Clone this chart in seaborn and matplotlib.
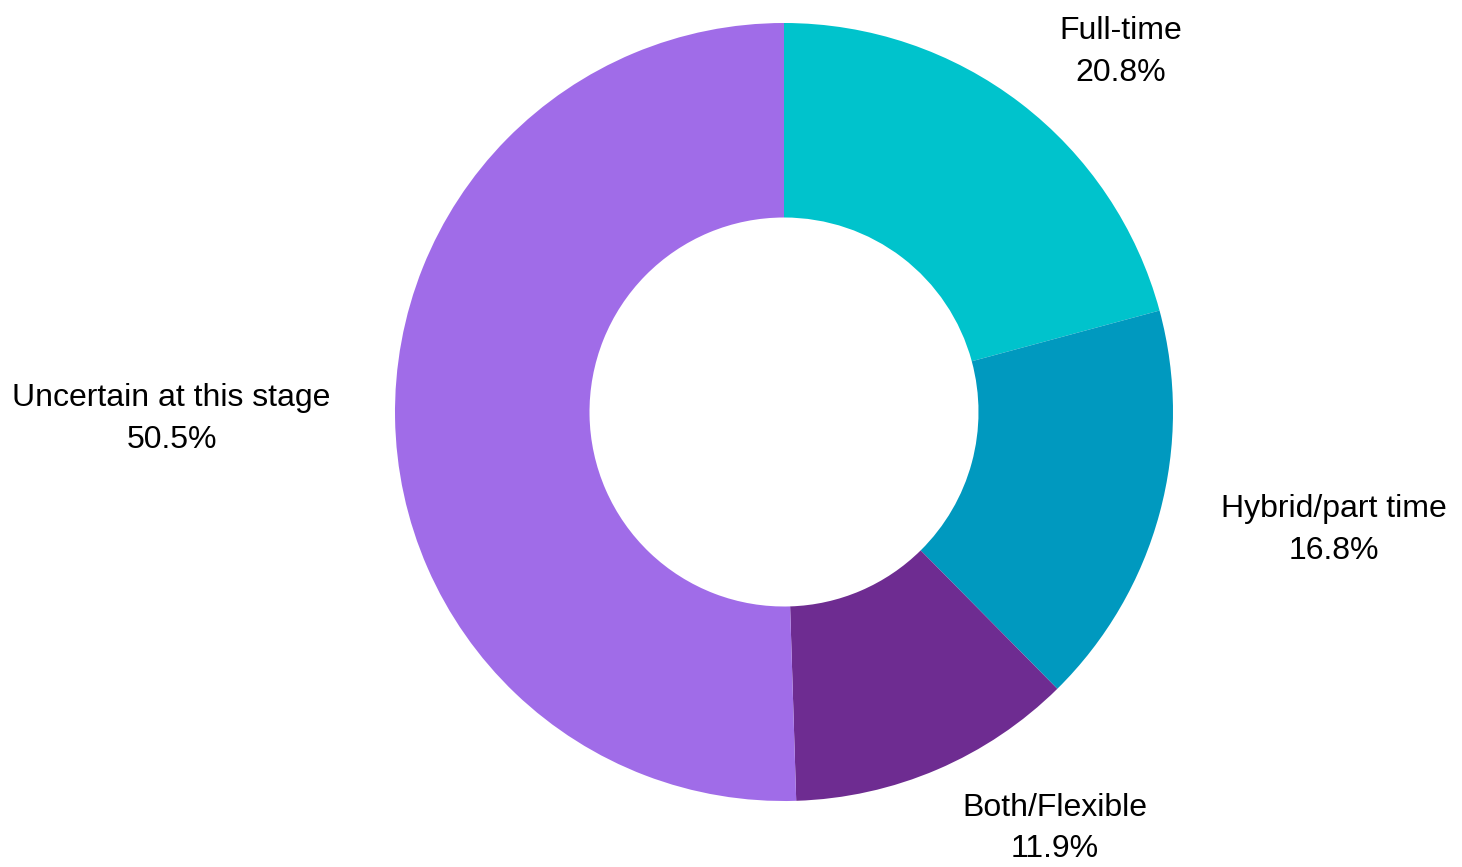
import seaborn as sns
import matplotlib.pyplot as plt

sns.set_theme(style="white")
plt.rcParams["font.family"] = ["Liberation Sans", "DejaVu Sans"]

categories = ["Full-time", "Hybrid/part time", "Both/Flexible", "Uncertain at this stage"]
shares = [20.8, 16.8, 11.9, 50.5]
colors = ["#00C3CC", "#0099BF", "#6E2C91", "#A06CE8"]

W, H = 1462, 867
fig = plt.figure(figsize=(W / 100, H / 100), dpi=100)

# pie centre (784, 412) px, outer radius 389 px; axes spans +-2 radii
r_px = 389
cx, cy = 784, H - 412
span = 4 * r_px
ax = fig.add_axes([(cx - span / 2) / W, (cy - span / 2) / H, span / W, span / H])

labels = [f"{c}\n{s:.1f}%" for c, s in zip(categories, shares)]
ax.pie(
    shares,
    labels=labels,
    colors=colors,
    startangle=90,
    counterclock=False,
    radius=1,
    labeldistance=1.165,
    wedgeprops=dict(width=0.5, linewidth=0),
    textprops=dict(fontsize=23, color="black", multialignment="center", linespacing=1.5),
)
ax.set_xlim(-2, 2)
ax.set_ylim(-2, 2)
ax.set_aspect("auto")
ax.axis("off")

fig.savefig("out.png", dpi=100)
